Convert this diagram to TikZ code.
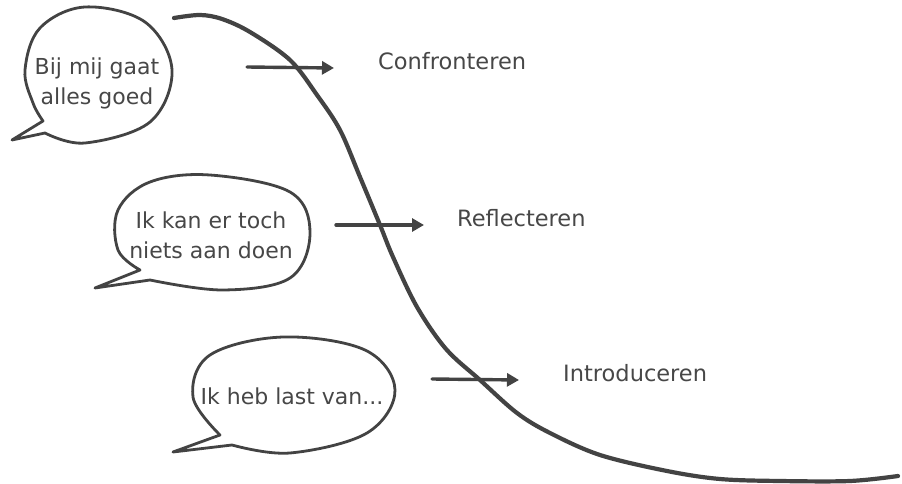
\documentclass[tikz,border=0pt]{standalone}
\usepackage{fontspec}
\setmainfont{DejaVu Sans}
\usetikzlibrary{arrows.meta}
\definecolor{ink}{HTML}{434343}
\definecolor{txt}{HTML}{474747}
\tikzset{
  bubble/.style={draw=ink, line width=2.8pt, line join=round, line cap=round},
  curveline/.style={draw=ink, line width=4.2pt, line cap=round, line join=round},
  arrowline/.style={draw=ink, line width=3.4pt, line cap=round, -{Triangle[length=12pt,width=13pt]}},
  btext/.style={text=txt, font=\fontsize{22}{30}\selectfont, align=center, inner sep=0pt},
  label/.style={text=txt, font=\fontsize{22.5}{26}\selectfont, anchor=west, inner sep=0pt}
}
\begin{document}
\begin{tikzpicture}[x=1pt,y=-1pt]
\useasboundingbox (0,0) rectangle (902,484);
% big curve
\draw[curveline] plot[smooth, tension=0.55] coordinates {(174,18) (200,15) (222,19) (250,32) (290,60) (317,95) (340,130) (360,177) (380,225) (393,257) (417,307) (446,349) (480,380) (517,413) (550,433) (600,455) (667,471) (720,479) (780,481) (850,481) (898,476)};
% bubbles
\draw[bubble] (43,121) -- (12,140) -- plot[smooth, tension=0.6] coordinates {(45,133) (85,143) (150,122) (172,70) (145,22) (85,7) (40,28) (25,70) (33,103) (43,121)} -- cycle;
\draw[bubble] (140,270) -- (95,288) -- plot[smooth, tension=0.6] coordinates {(150,280) (223,290) (290,278) (310,233) (290,192) (210,175) (150,182) (118,210) (118,250) (140,270)} -- cycle;
\draw[bubble] (220,435) -- (173,452) -- plot[smooth, tension=0.6] coordinates {(232,445) (290,453) (367,433) (395,390) (365,350) (283,337) (210,355) (193,397) (220,435)} -- cycle;
% bubble texts
\node[btext] (b1) at (97,83) {Bij mij gaat\\alles goed};
\node[btext] (b2) at (211,235) {Ik kan er toch\\niets aan doen};
\node[btext] (b3) at (292,396) {Ik heb last van...};
% labels
\node[label] (l1) at (378,61) {Confronteren};
\node[label] (l2) at (457,218) {Reflecteren};
\node[label] (l3) at (563,373) {Introduceren};
% arrows
\coordinate (a1s) at (247,67);
\coordinate (a1e) at (334,68);
\coordinate (a2s) at (336,225);
\coordinate (a2e) at (424,225);
\coordinate (a3s) at (432,379);
\coordinate (a3e) at (519,380);
\draw[arrowline] (a1s) -- (a1e);
\draw[arrowline] (a2s) -- (a2e);
\draw[arrowline] (a3s) -- (a3e);
\end{tikzpicture}
\end{document}
